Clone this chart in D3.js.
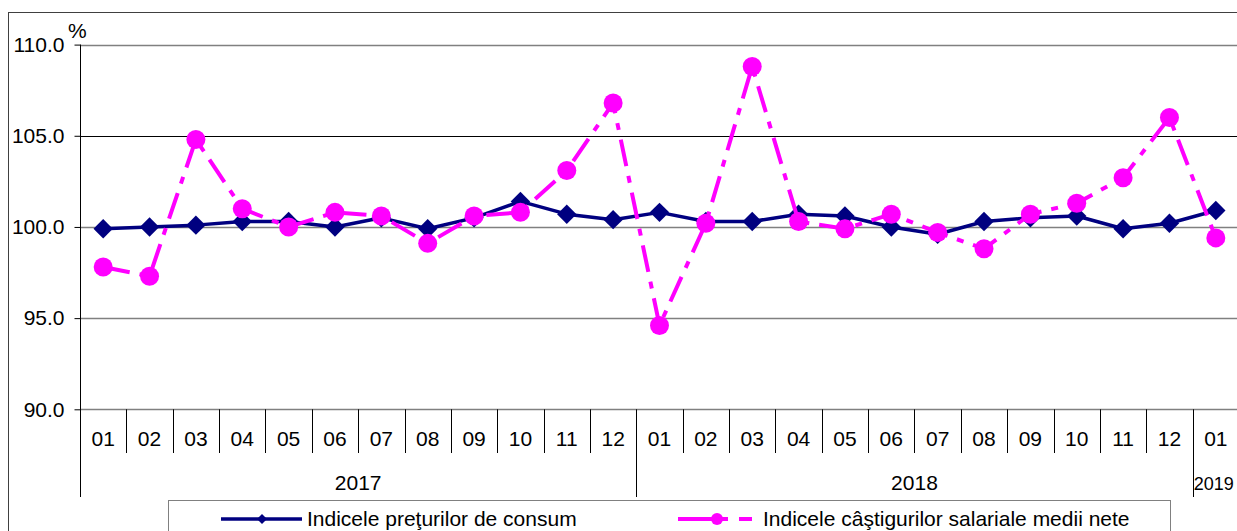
<!DOCTYPE html>
<html>
<head>
<meta charset="utf-8">
<script src="https://cdnjs.cloudflare.com/ajax/libs/d3/7.8.5/d3.min.js"></script>
<style>
  body { margin: 0; background: #fff; }
  svg { display: block; font-family: "Liberation Sans", Arial, sans-serif; }
</style>
</head>
<body>
<script>
'use strict';

// months shown on the x axis (2017-01 .. 2019-01)
const months = ['01','02','03','04','05','06','07','08','09','10','11','12',
                '01','02','03','04','05','06','07','08','09','10','11','12','01'];
const years = [
  { label: '2017', from: 0, to: 12 },
  { label: '2018', from: 12, to: 24 },
  { label: '2019', from: 24, to: 25 }
];
// consumer price index, % vs previous month
const cpi = [99.9, 100.0, 100.1, 100.3, 100.3, 100.0, 100.5, 99.9, 100.5, 101.4, 100.7, 100.4,
             100.8, 100.3, 100.3, 100.7, 100.6, 100.0, 99.6, 100.3, 100.5, 100.6, 99.9, 100.2, 100.9];
// net average earnings index
const wages = [97.8, 97.3, 104.8, 101.0, 100.0, 100.8, 100.6, 99.1, 100.6, 100.8, 103.1, 106.8,
               94.6, 100.2, 108.8, 100.3, 99.9, 100.7, 99.7, 98.8, 100.7, 101.3, 102.7, 106.0, 99.4];
const yTicks = [90, 95, 100, 105, 110];
const seriesNames = ['Indicele preţurilor de consum', 'Indicele câştigurilor salariale medii nete'];

const navy = '#000080';
const pink = '#ff00ff';
const fontSize = '21px';

const svg = d3.select('body').append('svg')
  .attr('width', 1237)
  .attr('height', 531);

// outer chart frame (runs off the picture on the right and bottom)
svg.append('rect')
  .attr('x', 8.5).attr('y', 12.5)
  .attr('width', 1300).attr('height', 600)
  .attr('fill', 'none')
  .attr('stroke', '#404040');

const x = d3.scaleBand()
  .domain(d3.range(months.length))
  .range([80, 1239]);

const y = d3.scaleLinear()
  .domain([90, 110])
  .range([409.3, 44.6]);

// gridlines
svg.append('g').selectAll('line')
  .data(yTicks)
  .enter()
  .append('line')
    .attr('x1', 80).attr('x2', 1239)
    .attr('y1', d => Math.round(y(d)) + 0.5)
    .attr('y2', d => Math.round(y(d)) + 0.5)
    .attr('stroke', d => d === 105 ? '#000' : '#808080')
    .attr('stroke-width', d => d === 105 ? 1 : 1.6);

// y axis
const yAxis = d3.axisLeft(y)
  .tickValues(yTicks)
  .tickSize(6)
  .tickPadding(10)
  .tickFormat(d3.format('.1f'));
const gy = svg.append('g')
  .attr('transform', 'translate(80.5, 0)')
  .call(yAxis);
gy.select('.domain').remove();
gy.selectAll('line').attr('stroke', '#000');
gy.selectAll('text')
  .attr('fill', '#000')
  .style('font-size', fontSize)
  .style('font-family', '"Liberation Sans", Arial, sans-serif');

svg.append('line')
  .attr('x1', 80.5).attr('x2', 80.5)
  .attr('y1', y(110)).attr('y2', 497)
  .attr('stroke', '#000');

svg.append('text')
  .attr('x', 68).attr('y', 38)
  .style('font-size', fontSize)
  .text('%');

// month separators
const bounds = d3.range(1, months.length);
svg.append('g').selectAll('line')
  .data(bounds)
  .enter()
  .append('line')
    .attr('x1', d => Math.round(x(d)) + 0.5)
    .attr('x2', d => Math.round(x(d)) + 0.5)
    .attr('y1', y(90))
    .attr('y2', d => (d === 12 || d === 24) ? 497 : 453)
    .attr('stroke', '#000');

// month labels
svg.append('g').selectAll('text')
  .data(months)
  .enter()
  .append('text')
    .attr('x', (d, i) => x(i) + x.bandwidth() / 2)
    .attr('y', 446)
    .attr('text-anchor', 'middle')
    .style('font-size', fontSize)
    .text(d => d);

// year labels; the last one sits in a single narrow band, so it is set smaller
svg.append('g').selectAll('text')
  .data(years)
  .enter()
  .append('text')
    .attr('x', d => d.to - d.from > 1 ? (x(d.from) + x(d.to - 1) + x.bandwidth()) / 2 : x(d.from) + 1)
    .attr('y', 490)
    .attr('text-anchor', d => d.to - d.from > 1 ? 'middle' : 'start')
    .style('font-size', d => d.to - d.from > 1 ? fontSize : '18px')
    .text(d => d.label);

const cx = (d, i) => x(i) + x.bandwidth() / 2;
const line = d3.line().x(cx).y(d => y(d));

// CPI series
svg.append('path')
  .datum(cpi)
  .attr('d', line)
  .attr('fill', 'none')
  .attr('stroke', navy)
  .attr('stroke-width', 3.5)
  .attr('stroke-linejoin', 'round');

const diamond = d3.symbol().type(d3.symbolDiamond2).size(240);
svg.append('g').selectAll('path')
  .data(cpi)
  .enter()
  .append('path')
    .attr('d', diamond)
    .attr('transform', (d, i) => 'translate(' + cx(d, i) + ',' + y(d) + ')')
    .attr('fill', navy);

// wages series
svg.append('path')
  .datum(wages)
  .attr('d', line)
  .attr('fill', 'none')
  .attr('stroke', pink)
  .attr('stroke-width', 4)
  .attr('stroke-dasharray', '27,10,7,10');

svg.append('g').selectAll('circle')
  .data(wages)
  .enter()
  .append('circle')
    .attr('cx', cx)
    .attr('cy', d => y(d))
    .attr('r', 9.5)
    .attr('fill', pink);

// legend
const legend = svg.append('g');
legend.append('rect')
  .attr('x', 168.5).attr('y', 500.5)
  .attr('width', 1002).attr('height', 60)
  .attr('fill', '#fff')
  .attr('stroke', '#808080');

legend.append('line')
  .attr('x1', 221).attr('x2', 302)
  .attr('y1', 519).attr('y2', 519)
  .attr('stroke', navy).attr('stroke-width', 3.5);
legend.append('path')
  .attr('d', d3.symbol().type(d3.symbolDiamond2).size(64))
  .attr('transform', 'translate(262,519)')
  .attr('fill', navy);
legend.append('text')
  .attr('x', 307).attr('y', 526)
  .style('font-size', fontSize)
  .text(seriesNames[0]);

legend.append('line')
  .attr('x1', 678).attr('x2', 752)
  .attr('y1', 519).attr('y2', 519)
  .attr('stroke', pink).attr('stroke-width', 4)
  .attr('stroke-dasharray', '50,11,13');
legend.append('circle')
  .attr('cx', 717).attr('cy', 519).attr('r', 6)
  .attr('fill', pink);
legend.append('text')
  .attr('x', 763).attr('y', 526)
  .style('font-size', fontSize)
  .text(seriesNames[1]);
</script>
</body>
</html>
